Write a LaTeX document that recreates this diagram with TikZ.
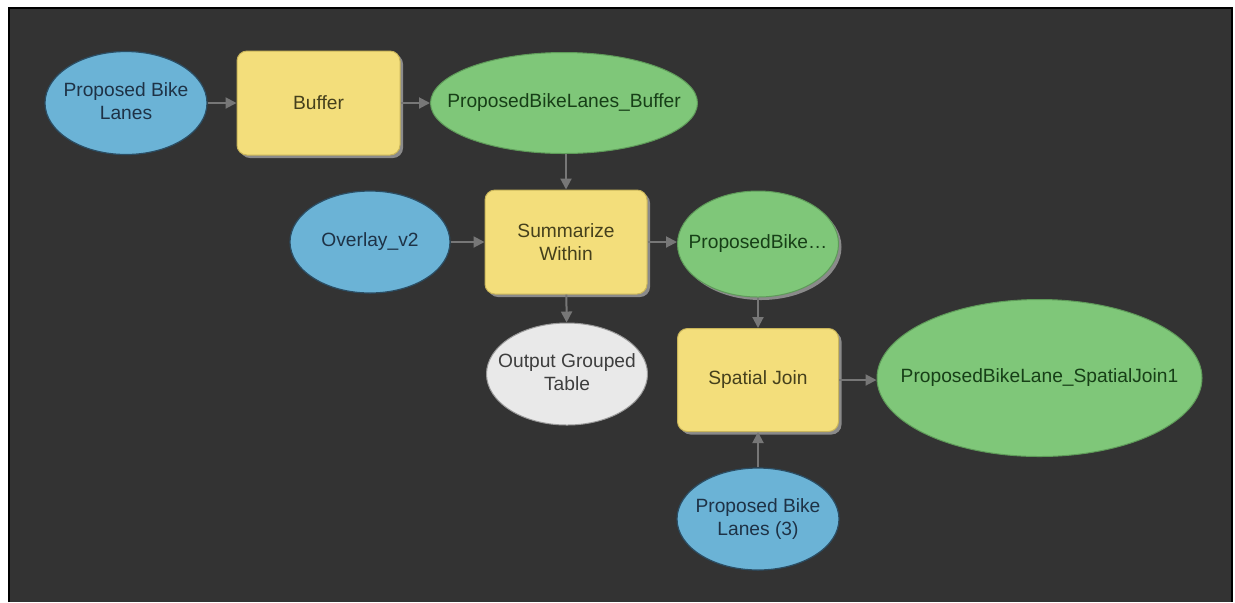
\documentclass[tikz,border=0pt]{standalone}
\usepackage{fontspec}
\setmainfont{Liberation Sans}
\usetikzlibrary{shapes.geometric,arrows.meta,shadows}
\definecolor{bg}{HTML}{333333}
\definecolor{bluefill}{HTML}{6BB3D6}
\definecolor{blueline}{HTML}{2B4D63}
\definecolor{bluetext}{HTML}{1E3246}
\definecolor{yellowfill}{HTML}{F3DE7B}
\definecolor{yellowline}{HTML}{C9B55A}
\definecolor{yellowtext}{HTML}{45401C}
\definecolor{greenfill}{HTML}{7FC779}
\definecolor{greenline}{HTML}{5E9A59}
\definecolor{greentext}{HTML}{173F17}
\definecolor{grayfill}{HTML}{E9E9E9}
\definecolor{grayline}{HTML}{9A9A9A}
\definecolor{graytext}{HTML}{3E3E3E}
\definecolor{arrowgray}{HTML}{777777}
\definecolor{shadowgray}{HTML}{8A8A8A}
\newcommand{\ctext}[1]{\makebox[0pt]{\begin{tabular}{@{}c@{}}#1\end{tabular}}}
\tikzset{
  lbl/.style={font=\fontsize{9.6}{11.5}\selectfont, align=center, inner sep=0pt},
  databox/.style={lbl, ellipse, fill=bluefill, draw=blueline, line width=0.6pt, text=bluetext},
  outbox/.style={lbl, ellipse, fill=greenfill, draw=greenline, line width=0.5pt, text=greentext},
  tblbox/.style={lbl, ellipse, fill=grayfill, draw=grayline, line width=0.5pt, text=graytext},
  toolbox/.style={lbl, rectangle, rounded corners=5pt, fill=yellowfill, draw=yellowline, line width=0.5pt, text=yellowtext,
    drop shadow={shadow xshift=1.5pt, shadow yshift=-1.5pt, fill=shadowgray, opacity=1}},
  conn/.style={draw=arrowgray, line width=1pt, -{Triangle[length=5.5pt,width=5.5pt]}}
}
\begin{document}
\begin{tikzpicture}[x=0.5pt,y=-0.5pt]
\useasboundingbox (0,0) rectangle (1235,602);
\fill[white] (0,0) rectangle (1235,602);
\fill[bg] (9,8) rectangle (1232,602);
\draw[black, line width=1pt] (9,602) -- (9,8) -- (1232,8) -- (1232,602);

\node[databox, minimum width=81pt, minimum height=51.5pt] (pbl) at (126,103) {\ctext{Proposed Bike\\Lanes}};
\node[toolbox, minimum width=81.5pt, minimum height=52pt] (buffer) at (318.5,103) {Buffer};
\node[outbox, minimum width=133.5pt, minimum height=50.5pt] (pblb) at (564,103) {\ctext{ProposedBikeLanes\_Buffer}};
\node[databox, minimum width=80pt, minimum height=51pt] (ov) at (370,242) {\ctext{Overlay\_v2}};
\node[toolbox, minimum width=81pt, minimum height=52pt] (sw) at (566,242) {Summarize\\Within};
\node[outbox, minimum width=80.5pt, minimum height=53pt,
  drop shadow={shadow xshift=1.5pt, shadow yshift=-1.5pt, fill=shadowgray, opacity=1}] (pb) at (758,244) {\ctext{ProposedBike\dots}};
\node[tblbox, minimum width=80.5pt, minimum height=51pt] (ogt) at (567,374) {\ctext{Output Grouped\\Table}};
\node[toolbox, minimum width=80.5pt, minimum height=51.5pt] (sj) at (758,380) {Spatial Join};
\node[databox, minimum width=81pt, minimum height=51pt] (pbl3) at (758,519) {\ctext{Proposed Bike\\Lanes (3)}};
\node[outbox, minimum width=162.5pt, minimum height=78.5pt] (sj1) at (1039.5,378) {\ctext{ProposedBikeLane\_SpatialJoin1}};

\draw[conn] (pbl) -- (buffer);
\draw[conn] (buffer) -- (pblb);
\draw[conn] (pblb.south -| sw.north) -- (sw.north);
\draw[conn] (ov) -- (sw);
\draw[conn] (sw.east) -- (pb.west |- sw.east);
\draw[conn] (sw) -- (ogt);
\draw[conn] (pb) -- (sj);
\draw[conn] (sj.east) -- (sj1.west |- sj.east);
\draw[conn] (pbl3) -- (sj);
\end{tikzpicture}
\end{document}
